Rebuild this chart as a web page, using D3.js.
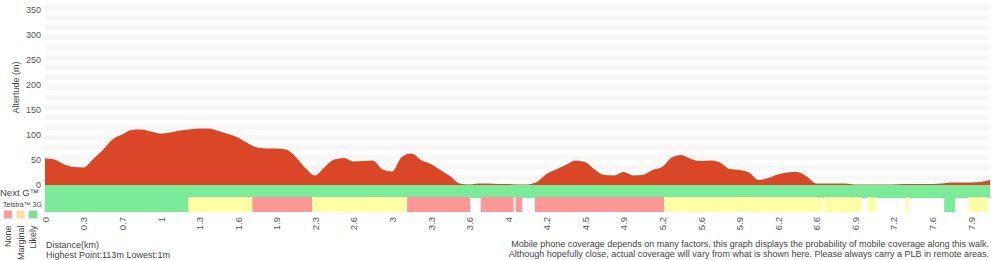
<!DOCTYPE html>
<html>
<head>
<meta charset="utf-8">
<script src="https://cdn.jsdelivr.net/npm/d3@7"></script>
<style>
body { margin: 0; background: #fff; }
svg text { font-family: "Liberation Sans", Arial, sans-serif; fill: #444; }
</style>
</head>
<body>
<script>
(function(){

// Elevation (m), one value every quarter of a tick step along the walk
var elevation = [53, 51, 41, 36, 35, 52, 70, 91, 101, 110, 111, 107, 103, 105, 109, 111, 113, 113, 108, 102,
    95, 84, 75, 73, 73, 71, 56, 34, 19, 36, 51, 54, 47, 48, 49, 31, 27, 56, 63, 50,
    42, 30, 18, 3, 1, 3, 3, 2, 2, 1, 1, 6, 22, 31, 40, 49, 46, 31, 20, 19,
    26, 19, 20, 30, 36, 55, 60, 52, 48, 49, 45, 32, 30, 25, 10, 14, 21, 25, 26, 17,
    3, 3, 3, 3, 1, 1, 1, 1, 1, 2, 2, 2, 2, 3, 5, 5, 5, 6, 10];

// Distance labels shown every 4 samples
var distLabels = ["0", "0.3", "0.7", "1", "1.3", "1.6", "1.9", "2.3", "2.6", "3", "3.3", "3.6", "4",
    "4.2", "4.5", "4.9", "5.2", "5.6", "5.9", "6.2", "6.6", "6.9", "7.2", "7.6", "7.9"];

var altTicks = [0, 50, 100, 150, 200, 250, 300, 350];

// Coverage runs: [start sample, end sample, level]
var nextG = [[0, 98, "Likely"]];
var telstra3G = [
    [0, 14.85, "Likely"], [14.85, 21.5, "Marginal"], [21.5, 27.7, "None"], [27.7, 37.55, "Marginal"],
    [37.55, 44.1, "None"], [45.2, 48.6, "None"], [48.8, 49.5, "None"], [50.8, 64.2, "None"],
    [64.2, 80.6, "Marginal"], [80.8, 84.7, "Marginal"], [85.35, 86.2, "Marginal"], [89.3, 89.6, "Marginal"],
    [93.25, 94.4, "Likely"], [95.8, 97.8, "Marginal"]
];

var levels = ["None", "Marginal", "Likely"];
var barColors = {None: "#fe9898", Marginal: "#ffffa6", Likely: "#7aeb98"};
var legendColors = {None: "#fd9b9b", Marginal: "#fee0a6", Likely: "#7ae394"};

var width = 1000, height = 260;
var svg = d3.select("body").append("svg")
    .attr("width", width)
    .attr("height", height);

var x = d3.scaleLinear().domain([0, elevation.length - 1]).range([45, 990]);
var y = d3.scaleLinear().domain([0, 360]).range([185, 5]);

// Alternating background bands
var bands = d3.range(10, 360, 20);
svg.selectAll(".band")
    .data(bands)
    .enter()
    .append("rect")
    .attr("class", "band")
    .attr("x", x(0))
    .attr("width", x(elevation.length - 1) - x(0))
    .attr("y", d => y(d + 10))
    .attr("height", d => y(d) - y(d + 10))
    .style("fill", "#f7f7f7");

// Elevation area
var area = d3.area()
    .curve(d3.curveMonotoneX)
    .x((d, i) => x(i))
    .y0(y(0))
    .y1(d => y(d));

svg.append("path")
    .datum(elevation)
    .attr("d", area)
    .style("fill", "#da4727");

// Coverage bars
function drawRuns(runs, top, bottom){
    svg.append("g").selectAll("rect")
        .data(runs)
        .enter()
        .append("rect")
        .attr("x", d => x(d[0]))
        .attr("width", d => x(d[1]) - x(d[0]))
        .attr("y", top)
        .attr("height", bottom - top)
        .style("fill", d => barColors[d[2]]);
}
drawRuns(nextG, 185, 198);
drawRuns(telstra3G, 197, 212);

// Altitude axis
var yAxis = d3.axisLeft(y).tickValues(altTicks).tickSize(0).tickPadding(4);
var yg = svg.append("g")
    .attr("transform", "translate(" + x(0) + ",0)")
    .call(yAxis);
yg.select(".domain").remove();
yg.selectAll("text").style("font-size", "9px").style("fill", "#555");

svg.append("text")
    .attr("transform", "translate(19," + y(195) + ") rotate(-90)")
    .attr("text-anchor", "middle")
    .style("font-size", "9px")
    .text("Altertude (m)");

// Distance axis, rotated labels
var tickIdx = distLabels.map((d, i) => i * 4);
var xAxis = d3.axisBottom(x).tickValues(tickIdx)
    .tickFormat((d, i) => distLabels[i]).tickSize(0).tickPadding(0);
var xg = svg.append("g")
    .attr("transform", "translate(0,214)")
    .call(xAxis);
xg.select(".domain").remove();
xg.selectAll("text")
    .attr("y", 0)
    .attr("x", -3)
    .attr("dy", "0.35em")
    .attr("transform", "rotate(-90)")
    .style("text-anchor", "end")
    .style("font-size", "9.5px")
    .style("fill", "#555");

// Row labels and legend
svg.append("text").attr("x", 0).attr("y", 196)
    .style("font-size", "9.5px").text("Next G\u2122");
svg.append("text").attr("x", 3).attr("y", 207)
    .style("font-size", "7px").text("Telstra\u2122 3G");

var legend = svg.selectAll(".legend")
    .data(levels)
    .enter()
    .append("g")
    .attr("class", "legend")
    .attr("transform", (d, i) => "translate(" + (4 + i * 12.5) + ",210.5)");
legend.append("rect")
    .attr("width", 8)
    .attr("height", 8)
    .style("fill", d => legendColors[d]);
legend.append("text")
    .attr("transform", "translate(4,15) rotate(-90)")
    .attr("dy", "0.35em")
    .attr("text-anchor", "end")
    .style("font-size", "9px")
    .text(d => d);

// Footer text
svg.append("text").attr("x", 46).attr("y", 248)
    .style("font-size", "9px").text("Distance(km)");
svg.append("text").attr("x", 46).attr("y", 257.5)
    .style("font-size", "9px")
    .text("Highest Point:" + d3.max(elevation) + "m Lowest:" + d3.min(elevation) + "m");

svg.append("text").attr("x", 989).attr("y", 247)
    .attr("text-anchor", "end")
    .style("font-size", "9px")
    .text("Mobile phone coverage depends on many factors, this graph displays the probability of mobile coverage along this walk.");
svg.append("text").attr("x", 989).attr("y", 256.5)
    .attr("text-anchor", "end")
    .style("font-size", "9px")
    .text("Although hopefully close, actual coverage will vary from what is shown here. Please always carry a PLB in remote areas.");

})();
</script>
</body>
</html>
